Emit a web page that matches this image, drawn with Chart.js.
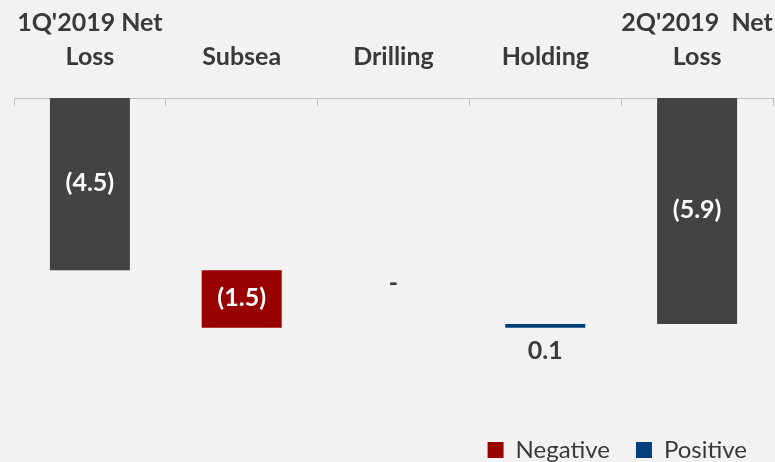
<!DOCTYPE html>
<html>
<head>
<meta charset="utf-8">
<script src="https://cdn.jsdelivr.net/npm/chart.js@4.4.1/dist/chart.umd.min.js"></script>
<style>
  html, body { margin: 0; padding: 0; background: #f2f2f2; overflow: hidden; }
  #wrap { width: 775px; height: 462px; overflow: hidden; }
</style>
</head>
<body>
<div id="wrap"><canvas id="chart" width="775" height="472"></canvas></div>
<script>
const categories = [["1Q'2019 Net", "Loss"], "Subsea", "Drilling", "Holding", ["2Q'2019  Net", "Loss"]];
const openingTotal = -4.5;
const segmentChanges = [-1.5, 0.0, 0.1]; // Subsea, Drilling, Holding
const closingTotal = -5.9;
const yRange = [-8.2, 0];

const colors = {
  total: "#434343",
  negative: "#990000",
  positive: "#003f7a",
  text: "#3b3838",
  axis: "#bfbfbf",
};

// build the floating ranges of the waterfall
const totalBars = [[0, openingTotal], null, null, null, [0, closingTotal]];
const negativeBars = [null];
const positiveBars = [null];
const barValues = [openingTotal];
let level = openingTotal;
segmentChanges.forEach((chg) => {
  const next = level + chg;
  if (chg > 0) {
    positiveBars.push([level, next]);
    negativeBars.push(null);
  } else {
    negativeBars.push([level, next]);
    positiveBars.push(null);
  }
  barValues.push(chg);
  level = next;
});
negativeBars.push(null);
positiveBars.push(null);
barValues.push(closingTotal);

const fmt = (v) => {
  if (v === 0) return "-";
  if (v < 0) return "(" + Math.abs(v).toFixed(1) + ")";
  return v.toFixed(1);
};

const valueLabels = {
  id: "valueLabels",
  afterDatasetsDraw(chart) {
    const ctx = chart.ctx;
    ctx.save();
    ctx.font = "bold 25px Lato";
    ctx.textAlign = "center";
    ctx.textBaseline = "middle";
    chart.data.datasets.forEach((ds, di) => {
      const meta = chart.getDatasetMeta(di);
      ds.data.forEach((d, i) => {
        if (!d) return;
        const el = meta.data[i];
        const v = barValues[i];
        const top = Math.min(el.y, el.base);
        const bottom = Math.max(el.y, el.base);
        let y, col;
        if (v === 0) {
          y = bottom - 45;
          col = colors.text;
        } else if (di === 2) {
          y = bottom + 23;
          col = colors.text;
        } else {
          y = (top + bottom) / 2 - 1;
          col = "#ffffff";
        }
        ctx.fillStyle = col;
        ctx.fillText(fmt(v), el.x, y);
      });
    });
    ctx.restore();
  },
};

new Chart(document.getElementById("chart"), {
  type: "bar",
  data: {
    labels: categories,
    datasets: [
      { label: "Total", data: totalBars, backgroundColor: colors.total },
      { label: "Negative", data: negativeBars, backgroundColor: colors.negative },
      { label: "Positive", data: positiveBars, backgroundColor: colors.positive },
    ],
  },
  options: {
    responsive: false,
    animation: false,
    barPercentage: 1,
    categoryPercentage: 0.527,
    layout: { padding: { left: 14, right: 2, top: 8, bottom: 0 } },
    scales: {
      x: {
        position: "top",
        stacked: true,
        border: { color: colors.axis, width: 1 },
        grid: { drawOnChartArea: false, offset: true, tickLength: -8, color: colors.axis },
        ticks: {
          color: colors.text,
          padding: -2,
          font: { family: "Lato", size: 25, weight: "bold", lineHeight: 1.36 },
          maxRotation: 0,
          autoSkip: false,
          // extra blank line keeps the labels clear of the axis line
          callback: function (v) {
            return [].concat(this.getLabelForValue(v), "");
          },
        },
      },
      y: { display: false, stacked: false, min: yRange[0], max: yRange[1] },
    },
    plugins: {
      tooltip: { enabled: false },
      legend: {
        position: "bottom",
        align: "end",
        labels: {
          filter: (item) => item.text !== "Total",
          color: colors.text,
          boxWidth: 16,
          boxHeight: 16,
          padding: 26,
          font: { family: "Lato", size: 24 },
        },
      },
    },
  },
  plugins: [valueLabels],
});
</script>
</body>
</html>
